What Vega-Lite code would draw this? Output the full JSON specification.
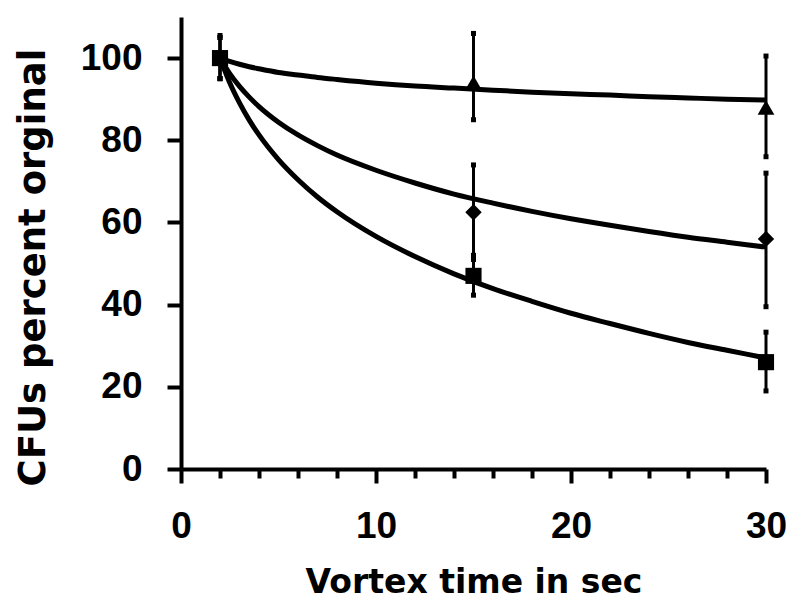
{
  "$schema": "https://vega.github.io/schema/vega-lite/v6.json",
  "width": 585,
  "height": 452,
  "autosize": {"type": "none"},
  "padding": {"left": 181, "top": 17, "right": 34, "bottom": 141},
  "background": "white",
  "config": {
    "view": {"stroke": null},
    "axis": {
      "grid": false,
      "domainColor": "black",
      "domainWidth": 4,
      "tickColor": "black",
      "tickWidth": 4,
      "tickSize": 14,
      "labelColor": "black",
      "labelFont": "Liberation Sans",
      "labelFontWeight": "bold",
      "labelFontSize": 37,
      "labelPadding": 25,
      "titleColor": "black",
      "titleFont": "DejaVu Sans",
      "titleFontWeight": "bold"
    }
  },
  "datasets": {
    "curves": [
      {"series": "triangle", "time": 2, "value": 100},
      {"series": "triangle", "time": 2.5, "value": 99.2},
      {"series": "triangle", "time": 3, "value": 98.5},
      {"series": "triangle", "time": 3.5, "value": 97.9},
      {"series": "triangle", "time": 4, "value": 97.4},
      {"series": "triangle", "time": 5, "value": 96.5},
      {"series": "triangle", "time": 6, "value": 95.9},
      {"series": "triangle", "time": 7, "value": 95.3},
      {"series": "triangle", "time": 8, "value": 94.8},
      {"series": "triangle", "time": 10, "value": 93.9},
      {"series": "triangle", "time": 12, "value": 93.2},
      {"series": "triangle", "time": 14, "value": 92.7},
      {"series": "triangle", "time": 16, "value": 92.2},
      {"series": "triangle", "time": 18, "value": 91.7},
      {"series": "triangle", "time": 20, "value": 91.3},
      {"series": "triangle", "time": 22, "value": 91.0},
      {"series": "triangle", "time": 24, "value": 90.6},
      {"series": "triangle", "time": 26, "value": 90.3},
      {"series": "triangle", "time": 28, "value": 90.0},
      {"series": "triangle", "time": 30, "value": 89.8},
      {"series": "diamond", "time": 2, "value": 100},
      {"series": "diamond", "time": 2.5, "value": 96.2},
      {"series": "diamond", "time": 3, "value": 93.1},
      {"series": "diamond", "time": 3.5, "value": 90.5},
      {"series": "diamond", "time": 4, "value": 88.2},
      {"series": "diamond", "time": 5, "value": 84.4},
      {"series": "diamond", "time": 6, "value": 81.3},
      {"series": "diamond", "time": 7, "value": 78.7},
      {"series": "diamond", "time": 8, "value": 76.4},
      {"series": "diamond", "time": 10, "value": 72.7},
      {"series": "diamond", "time": 12, "value": 69.6},
      {"series": "diamond", "time": 14, "value": 66.9},
      {"series": "diamond", "time": 16, "value": 64.7},
      {"series": "diamond", "time": 18, "value": 62.7},
      {"series": "diamond", "time": 20, "value": 60.9},
      {"series": "diamond", "time": 22, "value": 59.3},
      {"series": "diamond", "time": 24, "value": 57.8},
      {"series": "diamond", "time": 26, "value": 56.4},
      {"series": "diamond", "time": 28, "value": 55.2},
      {"series": "diamond", "time": 30, "value": 54.0},
      {"series": "square", "time": 2, "value": 100},
      {"series": "square", "time": 2.5, "value": 94.0},
      {"series": "square", "time": 3, "value": 89.1},
      {"series": "square", "time": 3.5, "value": 84.9},
      {"series": "square", "time": 4, "value": 81.3},
      {"series": "square", "time": 5, "value": 75.3},
      {"series": "square", "time": 6, "value": 70.4},
      {"series": "square", "time": 7, "value": 66.2},
      {"series": "square", "time": 8, "value": 62.6},
      {"series": "square", "time": 10, "value": 56.6},
      {"series": "square", "time": 12, "value": 51.7},
      {"series": "square", "time": 14, "value": 47.5},
      {"series": "square", "time": 16, "value": 43.9},
      {"series": "square", "time": 18, "value": 40.8},
      {"series": "square", "time": 20, "value": 37.9},
      {"series": "square", "time": 22, "value": 35.4},
      {"series": "square", "time": 24, "value": 33.0},
      {"series": "square", "time": 26, "value": 30.8},
      {"series": "square", "time": 28, "value": 28.9},
      {"series": "square", "time": 30, "value": 27.0}
    ],
    "points": [
      {"series": "triangle", "time": 2, "mean": 100, "lo": 95, "hi": 105},
      {"series": "triangle", "time": 15, "mean": 94, "lo": 85, "hi": 106},
      {"series": "triangle", "time": 30, "mean": 88, "lo": 76, "hi": 100.5},
      {"series": "diamond", "time": 2, "mean": 100, "lo": 95, "hi": 105},
      {"series": "diamond", "time": 15, "mean": 62.5, "lo": 51, "hi": 74},
      {"series": "diamond", "time": 30, "mean": 56, "lo": 39.5, "hi": 72},
      {"series": "square", "time": 2, "mean": 100, "lo": 95, "hi": 105.5},
      {"series": "square", "time": 15, "mean": 47, "lo": 42.3, "hi": 52},
      {"series": "square", "time": 30, "mean": 26, "lo": 19, "hi": 33.3}
    ]
  },
  "layer": [
    {
      "data": {"name": "curves"},
      "mark": {"type": "line", "color": "black", "strokeWidth": 5, "interpolate": "monotone"},
      "encoding": {
        "x": {
          "field": "time",
          "type": "quantitative",
          "scale": {"domain": [0, 30], "nice": false},
          "axis": {
            "values": [0, 2, 4, 6, 8, 10, 12, 14, 16, 18, 20, 22, 24, 26, 28, 30],
            "tickCount": 40,
            "tickSize": {"condition": {"test": "datum.value % 10 === 0", "value": 14}, "value": 9},
            "labelExpr": "datum.value % 10 === 0 ? datum.label : ''",
            "labelOverlap": false,
            "labelFlush": false,
            "labelBound": false,
            "title": "Vortex time in sec",
            "titleFontSize": 33,
            "titlePadding": 22
          }
        },
        "y": {
          "field": "value",
          "type": "quantitative",
          "scale": {"domain": [0, 110], "nice": false},
          "axis": {
            "values": [0, 20, 40, 60, 80, 100],
            "title": "CFUs percent orginal",
            "titleFontSize": 37,
            "titlePadding": 28,
            "titleY": 250
          }
        },
        "detail": {"field": "series"}
      }
    },
    {
      "data": {"name": "points"},
      "mark": {"type": "rule", "color": "black", "strokeWidth": 3},
      "encoding": {
        "x": {"field": "time", "type": "quantitative"},
        "y": {"field": "lo", "type": "quantitative"},
        "y2": {"field": "hi"}
      }
    },
    {
      "data": {"name": "points"},
      "mark": {"type": "point", "shape": "square", "filled": true, "color": "black", "size": 25, "opacity": 1},
      "encoding": {
        "x": {"field": "time", "type": "quantitative"},
        "y": {"field": "lo", "type": "quantitative"}
      }
    },
    {
      "data": {"name": "points"},
      "mark": {"type": "point", "shape": "square", "filled": true, "color": "black", "size": 25, "opacity": 1},
      "encoding": {
        "x": {"field": "time", "type": "quantitative"},
        "y": {"field": "hi", "type": "quantitative"}
      }
    },
    {
      "data": {"name": "points"},
      "mark": {"type": "point", "filled": true, "color": "black", "opacity": 1},
      "encoding": {
        "x": {"field": "time", "type": "quantitative"},
        "y": {"field": "mean", "type": "quantitative"},
        "shape": {
          "field": "series",
          "type": "nominal",
          "scale": {"domain": ["triangle", "diamond", "square"], "range": ["triangle-up", "diamond", "square"]},
          "legend": null
        },
        "size": {
          "field": "series",
          "type": "nominal",
          "scale": {"domain": ["triangle", "diamond", "square"], "range": [280, 260, 300]},
          "legend": null
        }
      }
    }
  ]
}
